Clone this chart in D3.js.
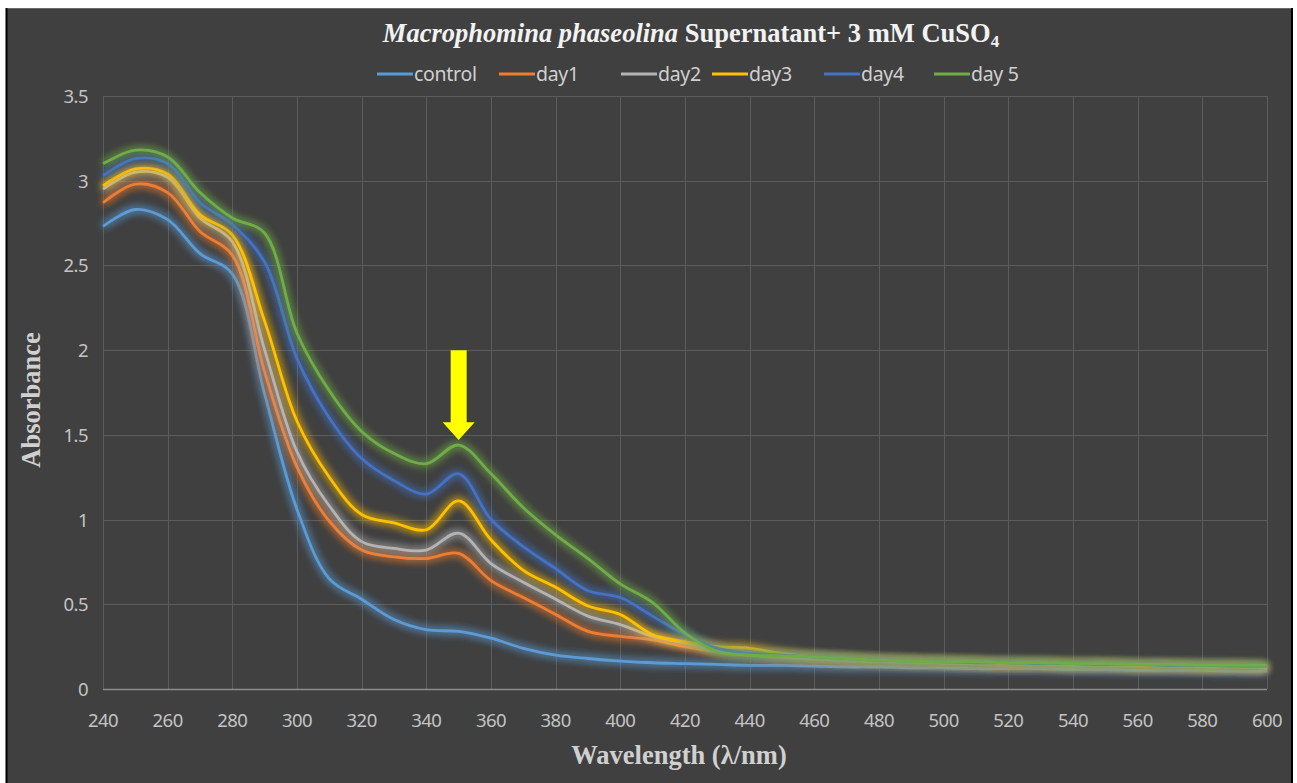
<!DOCTYPE html>
<html>
<head>
<meta charset="utf-8">
<script src="https://cdn.jsdelivr.net/npm/d3@7"></script>
<style>
  body { margin: 0; background: #fff; }
  svg { display: block; }
</style>
</head>
<body>
<div id="chart"></div>
<script>
// wavelengths (nm), one reading every 10 nm
var wavelengths = [240, 250, 260, 270, 280, 290, 300, 310, 320, 330, 340, 350, 360, 370, 380, 390, 400, 410, 420, 430,
    440, 450, 460, 470, 480, 490, 500, 510, 520, 530, 540, 550, 560, 570, 580, 590, 600];

var control = [2.73, 2.83, 2.77, 2.57, 2.45, 1.74, 1.06, 0.65, 0.53, 0.41, 0.35, 0.34, 0.30, 0.24, 0.20, 0.18, 0.165, 0.155, 0.15, 0.145,
    0.14, 0.14, 0.135, 0.13, 0.13, 0.125, 0.125, 0.12, 0.12, 0.12, 0.115, 0.115, 0.11, 0.11, 0.11, 0.105, 0.105];
var day1 = [2.87, 2.98, 2.93, 2.70, 2.56, 1.87, 1.31, 0.99, 0.82, 0.78, 0.77, 0.80, 0.64, 0.54, 0.44, 0.34, 0.31, 0.29, 0.25, 0.22,
    0.20, 0.185, 0.175, 0.165, 0.16, 0.155, 0.15, 0.145, 0.14, 0.14, 0.135, 0.135, 0.13, 0.13, 0.125, 0.125, 0.12];
var day2 = [2.95, 3.05, 3.02, 2.78, 2.64, 2.00, 1.40, 1.08, 0.87, 0.83, 0.82, 0.92, 0.74, 0.63, 0.53, 0.43, 0.38, 0.31, 0.27, 0.23,
    0.21, 0.19, 0.18, 0.17, 0.165, 0.16, 0.155, 0.15, 0.145, 0.145, 0.14, 0.14, 0.135, 0.135, 0.13, 0.13, 0.125];
var day3 = [2.97, 3.07, 3.04, 2.80, 2.68, 2.17, 1.58, 1.25, 1.03, 0.98, 0.94, 1.11, 0.88, 0.70, 0.60, 0.49, 0.44, 0.32, 0.28, 0.25,
    0.24, 0.21, 0.19, 0.18, 0.17, 0.165, 0.16, 0.155, 0.15, 0.15, 0.145, 0.145, 0.14, 0.14, 0.135, 0.135, 0.13];
var day4 = [3.03, 3.13, 3.10, 2.87, 2.74, 2.52, 1.95, 1.60, 1.36, 1.23, 1.15, 1.27, 1.00, 0.84, 0.71, 0.58, 0.54, 0.43, 0.32, 0.24,
    0.21, 0.20, 0.19, 0.18, 0.17, 0.165, 0.16, 0.155, 0.155, 0.15, 0.15, 0.145, 0.145, 0.14, 0.14, 0.135, 0.135];
var day5 = [3.10, 3.18, 3.14, 2.93, 2.78, 2.69, 2.10, 1.76, 1.52, 1.39, 1.33, 1.44, 1.27, 1.07, 0.91, 0.77, 0.62, 0.51, 0.33, 0.22,
    0.20, 0.195, 0.19, 0.18, 0.17, 0.165, 0.16, 0.16, 0.155, 0.155, 0.15, 0.15, 0.145, 0.145, 0.14, 0.14, 0.14];

var seriesNames = ["control", "day1", "day2", "day3", "day4", "day 5"];
var seriesColors = ["#5b9bd5", "#ed7d31", "#b4b4b4", "#ffc000", "#4472c4", "#70ad47"];
var seriesValues = [control, day1, day2, day3, day4, day5];

var xTicks = d3.range(240, 601, 20);
var yTicks = [0, 0.5, 1, 1.5, 2, 2.5, 3, 3.5];

var W = 1297, H = 783;
var margin = { top: 96, right: 30, bottom: 94, left: 103 },
    width = W - margin.left - margin.right,
    height = H - margin.top - margin.bottom;

var svg = d3.select("#chart")
    .append("svg")
    .attr("width", W)
    .attr("height", H);

// dark chart frame
svg.append("rect")
    .attr("x", 6).attr("y", 8)
    .attr("width", 1286).attr("height", H)
    .attr("fill", "#404040");
svg.append("line").attr("x1", 6).attr("x2", 1292).attr("y1", 8.5).attr("y2", 8.5)
    .attr("stroke", "#6a6a6a").attr("stroke-width", 1);
svg.append("line").attr("x1", 6.5).attr("x2", 6.5).attr("y1", 8).attr("y2", H)
    .attr("stroke", "#000").attr("stroke-width", 2);
svg.append("line").attr("x1", 1292).attr("x2", 1292).attr("y1", 8).attr("y2", H)
    .attr("stroke", "#000").attr("stroke-width", 2);

// glow filter
var defs = svg.append("defs");
var glow = defs.append("filter")
    .attr("id", "glow")
    .attr("x", "-10%").attr("y", "-10%")
    .attr("width", "120%").attr("height", "120%");
glow.append("feGaussianBlur")
    .attr("in", "SourceGraphic")
    .attr("stdDeviation", 4.5)
    .attr("result", "blur");
var feMerge = glow.append("feMerge");
feMerge.append("feMergeNode").attr("in", "blur");
feMerge.append("feMergeNode").attr("in", "blur");
feMerge.append("feMergeNode").attr("in", "SourceGraphic");

var g = svg.append("g")
    .attr("transform", "translate(" + margin.left + "," + margin.top + ")");

var x = d3.scaleLinear().domain([240, 600]).range([0, width]);
var y = d3.scaleLinear().domain([0, 3.5]).range([height, 0]);

// gridlines
g.append("g")
    .selectAll("line.hgrid")
    .data(yTicks.slice(1))
    .enter().append("line")
    .attr("x1", 0).attr("x2", width)
    .attr("y1", function (d) { return Math.round(y(d)) + 0.5; })
    .attr("y2", function (d) { return Math.round(y(d)) + 0.5; })
    .attr("stroke", "#5c5c5c");
g.append("g")
    .selectAll("line.vgrid")
    .data(xTicks)
    .enter().append("line")
    .attr("y1", 0).attr("y2", height)
    .attr("x1", function (d) { return Math.round(x(d)) + 0.5; })
    .attr("x2", function (d) { return Math.round(x(d)) + 0.5; })
    .attr("stroke", "#5c5c5c");

// x axis line
g.append("line")
    .attr("x1", 0).attr("x2", width)
    .attr("y1", height + 0.5).attr("y2", height + 0.5)
    .attr("stroke", "#8c8c8c").attr("stroke-width", 1.5);

// tick labels
var tickFont = "Noto Sans, sans-serif";
g.append("g")
    .selectAll("text")
    .data(xTicks)
    .enter().append("text")
    .attr("x", function (d) { return x(d); })
    .attr("y", height + 38)
    .attr("text-anchor", "middle")
    .attr("font-family", tickFont)
    .attr("font-size", 18.5)
    .attr("letter-spacing", -0.5)
    .attr("fill", "#c4c4c4")
    .text(function (d) { return d; });
g.append("g")
    .selectAll("text")
    .data(yTicks)
    .enter().append("text")
    .attr("x", -15)
    .attr("y", function (d) { return y(d) + 7; })
    .attr("text-anchor", "end")
    .attr("font-family", tickFont)
    .attr("font-size", 18.5)
    .attr("letter-spacing", -0.5)
    .attr("fill", "#c4c4c4")
    .text(function (d) { return d; });

// lines
var line = d3.line()
    .x(function (d) { return x(d[0]); })
    .y(function (d) { return y(d[1]); })
    .curve(d3.curveCatmullRom.alpha(0.5));

seriesValues.forEach(function (vals, i) {
    var pts = wavelengths.map(function (w, j) { return [w, vals[j]]; });
    g.append("path")
        .datum(pts)
        .attr("d", line)
        .attr("fill", "none")
        .attr("stroke", seriesColors[i])
        .attr("stroke-width", 2.8)
        .attr("filter", "url(#glow)");
});

// yellow arrow pointing at the 350 nm peak
var ax = x(350);
var arrowPts = [
    [ax - 8, y(2.0)], [ax + 8, y(2.0)], [ax + 8, y(1.575)], [ax + 16, y(1.575)],
    [ax, y(1.47)], [ax - 16, y(1.575)], [ax - 8, y(1.575)]
];
g.append("polygon")
    .attr("points", arrowPts.map(function (p) { return p.join(","); }).join(" "))
    .attr("fill", "#ffff00");

// title
var title = svg.append("text")
    .attr("x", 691)
    .attr("y", 42)
    .attr("text-anchor", "middle")
    .attr("font-family", "Liberation Serif, Times New Roman, serif")
    .attr("font-weight", "bold")
    .attr("font-size", 26.5)
    .attr("fill", "#f2f2f2");
title.append("tspan").attr("font-style", "italic").text("Macrophomina phaseolina");
title.append("tspan").text(" Supernatant+ 3 mM CuSO");
title.append("tspan").attr("font-size", 17).attr("dy", 5).text("4");

// legend
var legendX = [377, 499, 621, 712, 824, 934];
var legend = svg.append("g");
seriesNames.forEach(function (name, i) {
    legend.append("line")
        .attr("x1", legendX[i]).attr("x2", legendX[i] + 36)
        .attr("y1", 74).attr("y2", 74)
        .attr("stroke", seriesColors[i])
        .attr("stroke-width", 3);
    legend.append("text")
        .attr("x", legendX[i] + 37)
        .attr("y", 81)
        .attr("font-family", tickFont)
        .attr("font-size", 19.5)
        .attr("letter-spacing", -0.3)
        .attr("fill", "#d0d0d0")
        .text(name);
});

// axis titles
svg.append("text")
    .attr("transform", "translate(40,400) rotate(-90)")
    .attr("text-anchor", "middle")
    .attr("font-family", "Liberation Serif, Times New Roman, serif")
    .attr("font-weight", "bold")
    .attr("font-size", 26.5)
    .attr("fill", "#d0d0d0")
    .text("Absorbance");
svg.append("text")
    .attr("x", 679)
    .attr("y", 764)
    .attr("text-anchor", "middle")
    .attr("font-family", "Liberation Serif, Times New Roman, serif")
    .attr("font-weight", "bold")
    .attr("font-size", 26.5)
    .attr("fill", "#d0d0d0")
    .text("Wavelength (\u03bb/nm)");
</script>
</body>
</html>
